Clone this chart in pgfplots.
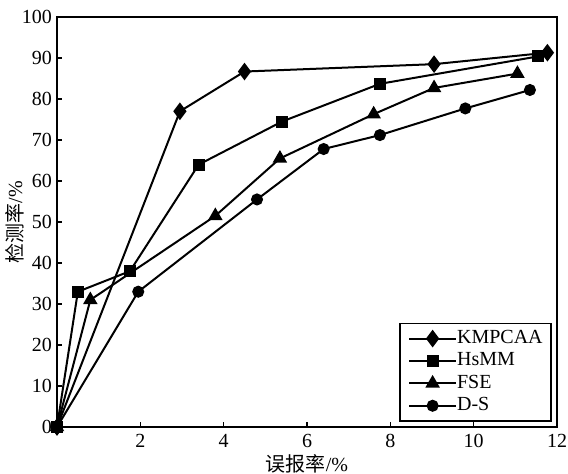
\documentclass[border=0pt]{standalone}
\usepackage{fontspec}
\setmainfont{Liberation Serif}
\newfontfamily\cjk{Noto Sans CJK SC}
\usepackage{pgfplots}
\pgfplotsset{compat=1.18}

\begin{document}
\begin{tikzpicture}
\begin{axis}[
width=250pt, height=205pt,
scale only axis,
xmin=0, xmax=12,
ymin=0, ymax=100,
xtick={2,4,...,12},
ytick={0,10,...,100},
tick align=inside,
tick pos=left,
major tick length=2.5pt,
axis line style={line width=0.8pt},
tick style={line width=0.8pt, black},
clip=false,
font=\fontsize{10pt}{12pt}\selectfont,
/pgf/number format/assume math mode=true,
yticklabel style={xshift=1pt},
xlabel={{\cjk 误报率}/\%},
ylabel={{\cjk 检测率}/\%},
xlabel style={at={(axis description cs:0.5,-0.09)}, anchor=center},
ylabel style={at={(axis description cs:-0.085,0.5)}, anchor=center},
every axis plot/.append style={black, line width=1pt, mark options={solid, fill=black}},
legend cell align=left,
legend style={at={(0.989,0.013)}, anchor=south east, draw=black, line width=0.8pt,
  inner xsep=4pt, inner ysep=1.5pt, row sep=-0.9pt,
  nodes={inner xsep=0pt}},
legend image code/.code={\draw[mark repeat=2, mark phase=2] plot coordinates {(0pt,0pt) (11.75pt,0pt) (23.5pt,0pt)};},
]
\coordinate (bl) at (rel axis cs:0,0);
\coordinate (tr) at (rel axis cs:1,1);
\addplot [mark=diamond*, mark size=3.6pt] coordinates {
(0,0) (2.95,77) (4.5,86.7) (9.05,88.5) (11.77,91.3)
};
\addlegendentry{KMPCAA}
\addplot [mark=square*, mark size=2.5pt] coordinates {
(0,0) (0.5,33) (1.75,38) (3.4,64) (5.4,74.5) (7.75,83.7) (11.55,90.4)
};
\addlegendentry{HsMM}
\addplot [mark=triangle*, mark size=3.2pt] coordinates {
(0,0) (0.8,31) (3.8,51.5) (5.35,65.5) (7.6,76.3) (9.05,82.7) (11.05,86.2)
};
\addlegendentry{FSE}
\addplot [mark=*, mark size=2.5pt] coordinates {
(0,0) (1.95,33) (4.8,55.5) (6.4,67.8) (7.75,71.2) (9.8,77.7) (11.35,82.2)
};
\addlegendentry{D-S}
\end{axis}
\pgfresetboundingbox
\path ([xshift=-28.5pt,yshift=-23pt]bl) rectangle ([xshift=5.5pt,yshift=8.5pt]tr);
\end{tikzpicture}
\end{document}
